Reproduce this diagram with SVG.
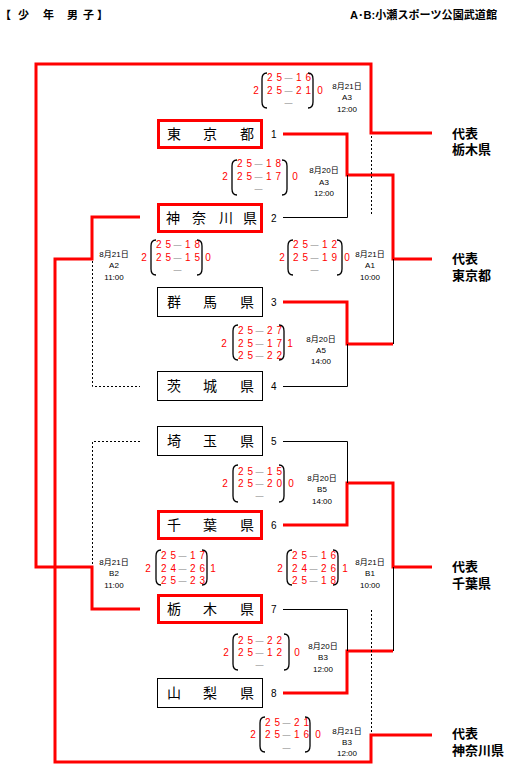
<svg xmlns="http://www.w3.org/2000/svg" width="519" height="777" viewBox="0 0 519 777">
<style>
text{font-family:"Liberation Sans","Noto Sans CJK JP",sans-serif;fill:#000}
.rl{fill:none;stroke:#f00;stroke-width:3}
.bl{fill:none;stroke:#000;stroke-width:1}
.dl{fill:none;stroke:#000;stroke-width:1;stroke-dasharray:2 2}
.rb{fill:#fff;stroke:#f00;stroke-width:3}
.bb{fill:#fff;stroke:#000;stroke-width:1}
.tn{font-size:14px}
.no{font-size:10px}
.sc{font-size:10px;fill:#f00}
.ws{font-size:10px;fill:#f00;text-anchor:middle}
.da{font-size:8px;fill:#777;text-anchor:middle}
.pr{fill:none;stroke:#000;stroke-width:1.3}
.dt{font-size:8px;text-anchor:middle}
.hd{font-size:11px;font-weight:bold}
.rp{font-size:13px;font-weight:bold}
</style>
<g id="header">
<text class="hd" y="19"><tspan x="0">【</tspan><tspan x="18">少</tspan><tspan x="43">年</tspan><tspan x="67">男</tspan><tspan x="83">子</tspan><tspan x="97">】</tspan></text>
<text class="hd" x="350" y="19" textLength="147" lengthAdjust="spacingAndGlyphs">A･B:小瀬スポーツ公園武道館</text>
</g>
<g id="connectors">
<path class="rl" d="M140,609 H92 V567 H36 V64 H371 V133 H432"/>
<path class="rl" d="M140,217 H92 V259 H55 V762 H371 V735 H432"/>
<path class="rl" d="M283,134 H347 V175 H393 V259 H432"/>
<path class="rl" d="M283,302 H347 V344 H393"/>
<path class="rl" d="M283,525 H347 V483 H393 V567 H432"/>
<path class="rl" d="M283,693 H347 V651 H393"/>
<path class="bl" d="M283,217.5 H347.5 V175"/>
<path class="bl" d="M283,386.5 H347.5 V344"/>
<path class="bl" d="M393.5,259 V344"/>
<path class="bl" d="M283,441.5 H347.5 V483"/>
<path class="bl" d="M283,609.5 H347.5 V651"/>
<path class="bl" d="M393.5,567 V651"/>
<path class="dl" d="M371.5,136 V216"/>
<path class="dl" d="M371.5,610 V733"/>
<path class="dl" d="M92.5,261 V386.5 H140"/>
<path class="dl" d="M140,441.5 H92.5 V566"/>
</g>
<g id="team1"><rect class="rb" x="158.5" y="120.5" width="103" height="27"/><text class="tn" y="139"><tspan x="167">東</tspan><tspan x="203">京</tspan><tspan x="240">都</tspan></text><text class="no" x="271" y="138">1</text></g>
<g id="team2"><rect class="rb" x="158.5" y="204.5" width="103" height="27"/><text class="tn" y="223"><tspan x="166">神</tspan><tspan x="192">奈</tspan><tspan x="219">川</tspan><tspan x="243">県</tspan></text><text class="no" x="271" y="222">2</text></g>
<g id="team3"><rect class="bb" x="157.5" y="287.5" width="105" height="29"/><text class="tn" y="307"><tspan x="167">群</tspan><tspan x="203">馬</tspan><tspan x="240">県</tspan></text><text class="no" x="271" y="306">3</text></g>
<g id="team4"><rect class="bb" x="157.5" y="371.5" width="105" height="29"/><text class="tn" y="391"><tspan x="167">茨</tspan><tspan x="203">城</tspan><tspan x="240">県</tspan></text><text class="no" x="271" y="390">4</text></g>
<g id="team5"><rect class="bb" x="157.5" y="426.5" width="105" height="29"/><text class="tn" y="446"><tspan x="167">埼</tspan><tspan x="203">玉</tspan><tspan x="240">県</tspan></text><text class="no" x="271" y="445">5</text></g>
<g id="team6"><rect class="rb" x="158.5" y="511.5" width="103" height="27"/><text class="tn" y="530"><tspan x="167">千</tspan><tspan x="203">葉</tspan><tspan x="240">県</tspan></text><text class="no" x="271" y="529">6</text></g>
<g id="team7"><rect class="rb" x="158.5" y="595.5" width="103" height="27"/><text class="tn" y="614"><tspan x="167">栃</tspan><tspan x="203">木</tspan><tspan x="240">県</tspan></text><text class="no" x="271" y="613">7</text></g>
<g id="team8"><rect class="bb" x="157.5" y="678.5" width="105" height="29"/><text class="tn" y="698"><tspan x="167">山</tspan><tspan x="203">梨</tspan><tspan x="240">県</tspan></text><text class="no" x="271" y="697">8</text></g>

<g id="matchA">
<text class="ws" x="256" y="94">2</text>
<path class="pr" d="M267,73 Q262,73 262,79 V102 Q262,108 267,108"/>
<text class="sc" x="267 276.5" y="81">25</text><text class="da" x="288.5" y="80">—</text><text class="sc" x="296 305.5" y="81">16</text>
<text class="sc" x="267 276.5" y="94">25</text><text class="da" x="288.5" y="93">—</text><text class="sc" x="296 305.5" y="94">21</text>
<text class="da" x="288.5" y="105">—</text>
<path class="pr" d="M308,73 Q313,73 313,79 V102 Q313,108 308,108"/>
<text class="ws" x="320" y="94">0</text>
<text class="dt" x="347" y="89">8月21日</text><text class="dt" x="347" y="100">A3</text><text class="dt" x="347" y="112">12:00</text>
</g>
<g id="matchB">
<text class="ws" x="225" y="180">2</text>
<path class="pr" d="M237,160 Q232,160 232,166 V189 Q232,195 237,195"/>
<text class="sc" x="237 246.5" y="167">25</text><text class="da" x="258.5" y="166">—</text><text class="sc" x="266 275.5" y="167">18</text>
<text class="sc" x="237 246.5" y="180">25</text><text class="da" x="258.5" y="179">—</text><text class="sc" x="266 275.5" y="180">17</text>
<text class="da" x="258.5" y="191">—</text>
<path class="pr" d="M282,160 Q287,160 287,166 V189 Q287,195 282,195"/>
<text class="ws" x="295" y="180">0</text>
<text class="dt" x="324" y="173">8月20日</text><text class="dt" x="324" y="185">A3</text><text class="dt" x="324" y="196">12:00</text>
</g>
<g id="matchC">
<text class="ws" x="144" y="261">2</text>
<path class="pr" d="M156,240 Q151,240 151,246 V269 Q151,275 156,275"/>
<text class="sc" x="156 165.5" y="248">25</text><text class="da" x="177.5" y="247">—</text><text class="sc" x="185 194.5" y="248">18</text>
<text class="sc" x="156 165.5" y="261">25</text><text class="da" x="177.5" y="260">—</text><text class="sc" x="185 194.5" y="261">15</text>
<text class="da" x="177.5" y="272">—</text>
<path class="pr" d="M197,240 Q202,240 202,246 V269 Q202,275 197,275"/>
<text class="ws" x="208" y="261">0</text>
<text class="dt" x="114" y="257">8月21日</text><text class="dt" x="114" y="268">A2</text><text class="dt" x="114" y="280">11:00</text>
</g>
<g id="matchD">
<text class="ws" x="282" y="261">2</text>
<path class="pr" d="M293,240 Q288,240 288,246 V269 Q288,275 293,275"/>
<text class="sc" x="293 302.5" y="248">25</text><text class="da" x="314.5" y="247">—</text><text class="sc" x="322 331.5" y="248">12</text>
<text class="sc" x="293 302.5" y="261">25</text><text class="da" x="314.5" y="260">—</text><text class="sc" x="322 331.5" y="261">19</text>
<text class="da" x="314.5" y="272">—</text>
<path class="pr" d="M337,240 Q342,240 342,246 V269 Q342,275 337,275"/>
<text class="ws" x="347" y="261">0</text>
<text class="dt" x="370" y="257">8月21日</text><text class="dt" x="370" y="268">A1</text><text class="dt" x="370" y="280">10:00</text>
</g>
<g id="matchE">
<text class="ws" x="224" y="347">2</text>
<path class="pr" d="M238,325 Q233,325 233,331 V354 Q233,360 238,360"/>
<text class="sc" x="238 247.5" y="334">25</text><text class="da" x="259.5" y="333">—</text><text class="sc" x="267 276.5" y="334">27</text>
<text class="sc" x="238 247.5" y="347">25</text><text class="da" x="259.5" y="346">—</text><text class="sc" x="267 276.5" y="347">17</text>
<text class="sc" x="238 247.5" y="359">25</text><text class="da" x="259.5" y="358">—</text><text class="sc" x="267 276.5" y="359">22</text>
<path class="pr" d="M279,325 Q284,325 284,331 V354 Q284,360 279,360"/>
<text class="ws" x="290" y="347">1</text>
<text class="dt" x="321" y="342">8月20日</text><text class="dt" x="321" y="353">A5</text><text class="dt" x="321" y="364">14:00</text>
</g>
<g id="matchF">
<text class="ws" x="225" y="487">2</text>
<path class="pr" d="M238,465 Q233,465 233,471 V496 Q233,502 238,502"/>
<text class="sc" x="238 247.5" y="475">25</text><text class="da" x="259.5" y="474">—</text><text class="sc" x="267 276.5" y="475">15</text>
<text class="sc" x="238 247.5" y="487">25</text><text class="da" x="259.5" y="486">—</text><text class="sc" x="267 276.5" y="487">20</text>
<text class="da" x="259.5" y="498">—</text>
<path class="pr" d="M279,465 Q284,465 284,471 V496 Q284,502 279,502"/>
<text class="ws" x="291" y="487">0</text>
<text class="dt" x="322" y="481">8月20日</text><text class="dt" x="322" y="492">B5</text><text class="dt" x="322" y="504">14:00</text>
</g>
<g id="matchG">
<text class="ws" x="148" y="572">2</text>
<path class="pr" d="M161,550 Q156,550 156,556 V579 Q156,585 161,585"/>
<text class="sc" x="161 170.5" y="559">25</text><text class="da" x="182.5" y="558">—</text><text class="sc" x="190 199.5" y="559">17</text>
<text class="sc" x="161 170.5" y="572">24</text><text class="da" x="182.5" y="571">—</text><text class="sc" x="190 199.5" y="572">26</text>
<text class="sc" x="161 170.5" y="584">25</text><text class="da" x="182.5" y="583">—</text><text class="sc" x="190 199.5" y="584">23</text>
<path class="pr" d="M202,550 Q207,550 207,556 V579 Q207,585 202,585"/>
<text class="ws" x="213" y="572">1</text>
<text class="dt" x="114" y="565">8月21日</text><text class="dt" x="114" y="576">B2</text><text class="dt" x="114" y="588">11:00</text>
</g>
<g id="matchH">
<text class="ws" x="280" y="572">2</text>
<path class="pr" d="M292,550 Q287,550 287,556 V579 Q287,585 292,585"/>
<text class="sc" x="292 301.5" y="559">25</text><text class="da" x="313.5" y="558">—</text><text class="sc" x="321 330.5" y="559">16</text>
<text class="sc" x="292 301.5" y="572">24</text><text class="da" x="313.5" y="571">—</text><text class="sc" x="321 330.5" y="572">26</text>
<text class="sc" x="292 301.5" y="584">25</text><text class="da" x="313.5" y="583">—</text><text class="sc" x="321 330.5" y="584">18</text>
<path class="pr" d="M333,550 Q338,550 338,556 V579 Q338,585 333,585"/>
<text class="ws" x="345" y="572">1</text>
<text class="dt" x="370" y="565">8月21日</text><text class="dt" x="370" y="576">B1</text><text class="dt" x="370" y="588">10:00</text>
</g>
<g id="matchI">
<text class="ws" x="226" y="656">2</text>
<path class="pr" d="M238,634 Q233,634 233,640 V664 Q233,670 238,670"/>
<text class="sc" x="238 247.5" y="644">25</text><text class="da" x="259.5" y="643">—</text><text class="sc" x="267 276.5" y="644">22</text>
<text class="sc" x="238 247.5" y="656">25</text><text class="da" x="259.5" y="655">—</text><text class="sc" x="267 276.5" y="656">12</text>
<text class="da" x="259.5" y="667">—</text>
<path class="pr" d="M284,634 Q289,634 289,640 V664 Q289,670 284,670"/>
<text class="ws" x="297" y="656">0</text>
<text class="dt" x="323" y="649">8月20日</text><text class="dt" x="323" y="660">B3</text><text class="dt" x="323" y="672">12:00</text>
</g>
<g id="matchJ">
<text class="ws" x="253" y="738">2</text>
<path class="pr" d="M265,717 Q260,717 260,723 V746 Q260,752 265,752"/>
<text class="sc" x="265 274.5" y="726">25</text><text class="da" x="286.5" y="725">—</text><text class="sc" x="294 303.5" y="726">21</text>
<text class="sc" x="265 274.5" y="738">25</text><text class="da" x="286.5" y="737">—</text><text class="sc" x="294 303.5" y="738">16</text>
<text class="da" x="286.5" y="750">—</text>
<path class="pr" d="M305,717 Q310,717 310,723 V746 Q310,752 305,752"/>
<text class="ws" x="318" y="738">0</text>
<text class="dt" x="347" y="734">8月21日</text><text class="dt" x="347" y="745">B3</text><text class="dt" x="347" y="756">12:00</text>
</g>
<g id="rep1"><text class="rp" x="452" y="138">代表</text><text class="rp" x="452" y="154">栃木県</text></g>
<g id="rep2"><text class="rp" x="452" y="263">代表</text><text class="rp" x="452" y="280">東京都</text></g>
<g id="rep3"><text class="rp" x="452" y="571">代表</text><text class="rp" x="452" y="588">千葉県</text></g>
<g id="rep4"><text class="rp" x="452" y="738">代表</text><text class="rp" x="452" y="755">神奈川県</text></g>
</svg>
